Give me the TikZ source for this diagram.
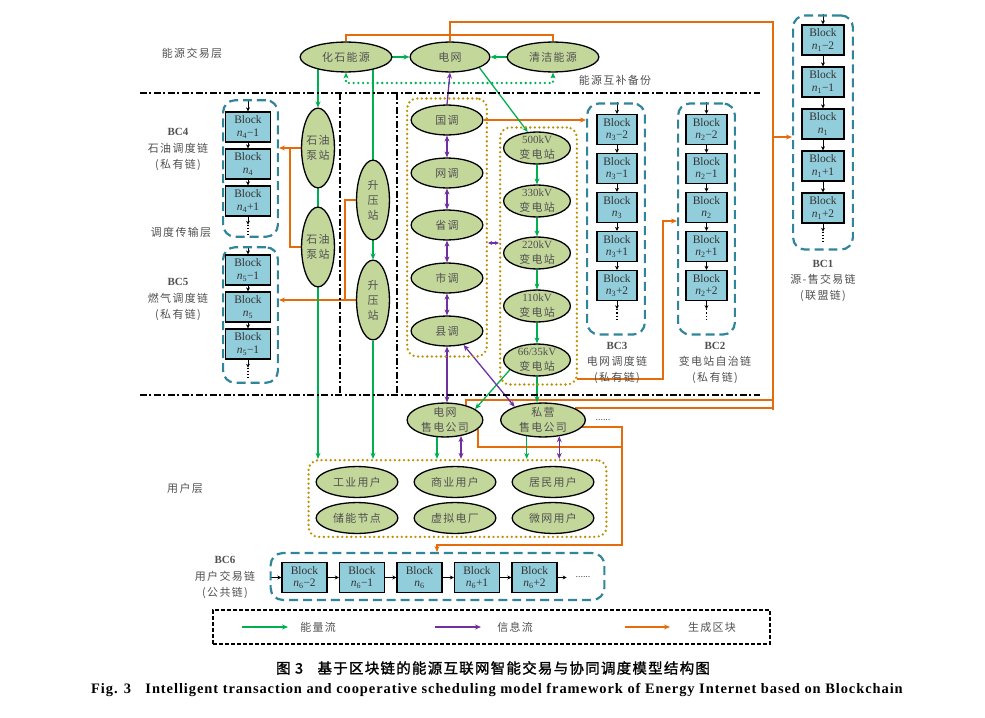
\documentclass[tikz,border=0pt]{standalone}
\usepackage{fontspec}
\setmainfont{Liberation Serif}
\newfontfamily\cjk[LetterSpace=12]{Noto Sans CJK SC}
\newfontfamily\cjkb[FakeBold=1.5,LetterSpace=9]{Noto Sans CJK SC}
\usetikzlibrary{shapes.geometric,arrows.meta}
\pgfdeclarelayer{bg}
\pgfsetlayers{bg,main}
\definecolor{cell}{RGB}{196,215,155}
\definecolor{cblk}{RGB}{146,205,220}
\definecolor{cchain}{RGB}{49,133,155}
\definecolor{cgold}{RGB}{191,144,0}
\definecolor{cgreen}{RGB}{0,176,80}
\definecolor{cpurple}{RGB}{112,48,160}
\definecolor{corange}{RGB}{228,108,10}
\definecolor{ctext}{RGB}{80,80,80}
\newcommand{\bn}[2]{Block\\\textit{n}\textsubscript{#1}#2}
\begin{document}
\begin{tikzpicture}[x=1bp,y=-1bp,>={Stealth[length=6pt,width=5pt]},
el/.style={ellipse,draw=black,line width=1.3pt,fill=cell,inner sep=-2pt,align=center,text=ctext,font=\cjk\fontsize{11}{15}\selectfont},
blk/.style={draw=black,line width=1.5pt,fill=cblk,minimum width=#1,minimum height=30,inner sep=0pt,align=center,text=black!80,font=\fontsize{11.5}{12.5}\selectfont},
blk/.default=41,
chain/.style={draw=cchain,line width=2.2pt,dash pattern=on 9pt off 5pt,rounded corners=12pt},
grp/.style={draw=cgold,line width=2.6pt,dash pattern=on 0pt off 4.6pt,line cap=round,rounded corners=10pt},
sep/.style={line width=1.6pt,dash pattern=on 7pt off 2.5pt on 2pt off 2.5pt},
gf/.style={draw=cgreen,line width=1.3pt},
pf/.style={<->,draw=cpurple,line width=1.3pt},
of/.style={draw=corange,line width=2pt},
bk/.style={-{Stealth[length=4pt,width=4pt]},line width=1pt},
lab/.style={align=center,text=ctext,font=\cjk\fontsize{11}{16.5}\selectfont}]
\path[use as bounding box] (0,0) rectangle (985,718);
\draw[sep] (140,93)--(760,93);
\draw[sep] (140,395)--(760,395);
\draw[sep] (340,93)--(340,395);
\draw[sep] (397,93)--(397,395);
\node[lab] (l1) at (192,53) {能源交易层};
\node[lab] (l2) at (181,232) {调度传输层};
\node[lab] (l3) at (185,488) {用户层};
\node[lab] (l4) at (615,80) {能源互补备份};
\node[chain,minimum width=55,minimum height=137] (bc4) at (250.5,168.5) {};
\node[chain,minimum width=55,minimum height=136] (bc5) at (250.5,315) {};
\node[chain,minimum width=58,minimum height=232] (bc3) at (616,219) {};
\node[chain,minimum width=57,minimum height=232] (bc2) at (706.5,219) {};
\node[chain,minimum width=60,minimum height=235] (bc1) at (823,132.5) {};
\node[chain,minimum width=335,minimum height=47] (bc6) at (437.5,576.5) {};
\foreach \s [count=\i] in {{−1},{},{+1}}
  \node[blk=45] (b4\i) at (248,{90+37*\i}) {\bn{4}{\s}};
\foreach \s [count=\i] in {{−1},{},{−1}}
  \node[blk=45] (b5\i) at (248,{233+37*\i}) {\bn{5}{\s}};
\foreach \s [count=\i] in {{−2},{−1},{},{+1},{+2}}{
  \node[blk=40] (b3\i) at (617,{90.5+39*\i}) {\bn{3}{\s}};
  \node[blk=41] (b2\i) at (706.5,{90.5+39*\i}) {\bn{2}{\s}};
  \node[blk=42] (b1\i) at (823,{-2+42*\i}) {\bn{1}{\s}};
  \node[blk=45] (b6\i) at ({247+57.5*\i},577.5) {\bn{6}{\s}};
}
\node[lab] (t4) at (178,149.5) {{\rmfamily\bfseries BC4}\\石油调度链\\(私有链)};
\node[lab] (t5) at (178,299.5) {{\rmfamily\bfseries BC5}\\燃气调度链\\(私有链)};
\node[lab] (t3) at (617,363) {{\rmfamily\bfseries BC3}\\电网调度链\\(私有链)};
\node[lab] (t2) at (715,363) {{\rmfamily\bfseries BC2}\\变电站自治链\\(私有链)};
\node[lab] (t1) at (823,281) {{\rmfamily\bfseries BC1}\\源-售交易链\\(联盟链)};
\node[lab] (t6) at (225,577.5) {{\rmfamily\bfseries BC6}\\用户交易链\\(公共链)};
\node[grp,minimum width=80,minimum height=259] (dgrp) at (447,227.5) {};
\node[grp,minimum width=77,minimum height=258] (sgrp) at (538.5,256) {};
\node[grp,minimum width=299,minimum height=77] (ug) at (457.5,498.5) {};
\node[el,minimum width=92,minimum height=30] (hua) at (346,57) {化石能源};
\node[el,minimum width=80,minimum height=30] (dw) at (450,57) {电网};
\node[el,minimum width=92,minimum height=30] (qj) at (553,57) {清洁能源};
\node[el,minimum width=33,minimum height=80] (oil1) at (318,148) {石油\\泵站};
\node[el,minimum width=33,minimum height=80] (oil2) at (318,247) {石油\\泵站};
\node[el,minimum width=33,minimum height=80] (up1) at (373,200) {升\\压\\站};
\node[el,minimum width=33,minimum height=80] (up2) at (373,300) {升\\压\\站};
\node[el,minimum width=72,minimum height=30] (guo) at (447,120) {国调};
\node[el,minimum width=72,minimum height=30] (wang) at (447,173) {网调};
\node[el,minimum width=72,minimum height=30] (sheng) at (447,225) {省调};
\node[el,minimum width=72,minimum height=30] (shi) at (447,278) {市调};
\node[el,minimum width=72,minimum height=30] (xian) at (447,331) {县调};
\node[el,minimum width=67,minimum height=32] (v500) at (537,148) {{\rmfamily 500kV}\\变电站};
\node[el,minimum width=67,minimum height=32] (v330) at (537,201) {{\rmfamily 330kV}\\变电站};
\node[el,minimum width=67,minimum height=32] (v220) at (537,253) {{\rmfamily 220kV}\\变电站};
\node[el,minimum width=67,minimum height=32] (v110) at (537,306) {{\rmfamily 110kV}\\变电站};
\node[el,minimum width=67,minimum height=32] (v66) at (537,360) {{\rmfamily 66/35kV}\\变电站};
\node[el,minimum width=76,minimum height=34] (gsc) at (445,420) {电网\\售电公司};
\node[el,minimum width=85,minimum height=34] (psc) at (543,420) {私营\\售电公司};
\node[text=ctext] (more) at (603,420) {......};
\node[el,minimum width=82,minimum height=31] (u1) at (357,482) {工业用户};
\node[el,minimum width=82,minimum height=31] (u2) at (455,482) {商业用户};
\node[el,minimum width=82,minimum height=31] (u3) at (553,482) {居民用户};
\node[el,minimum width=82,minimum height=31] (u4) at (357,518) {储能节点};
\node[el,minimum width=82,minimum height=31] (u5) at (455,518) {虚拟电厂};
\node[el,minimum width=82,minimum height=31] (u6) at (553,518) {微网用户};
\coordinate (ob) at (450,35);
\coordinate (gb) at (450,83);
\coordinate (r1) at (773,22);
\coordinate (r2) at (773,410);
\coordinate (r3) at (773,137);
\coordinate (r4) at (773,400);
\coordinate (q1) at (622,545);
\coordinate (q2) at (437,545);
\coordinate (q3) at (622,447);
\coordinate (o1) at (577,379);
\coordinate (o2) at (663,221);
\coordinate (o3) at (290,148);
\coordinate (o4) at (345,300);
\coordinate (ph) at (493,243);
\begin{pgfonlayer}{bg}
\foreach \c/\m/\n in {4/2/3,5/2/3,3/4/5,2/4/5,1/4/5}{
  \draw[bk] (bc\c.north-|b\c1)--(b\c1.north);
  \foreach \i in {1,...,\m}{
    \pgfmathtruncatemacro\j{\i+1}
    \draw[bk] (b\c\i.south)--(b\c\j.north);
  }
  \draw[bk] (b\c\n.south)--++(0,8) coordinate (e\c);
  \draw[dotted,line width=1.2pt] (e\c)--++(0,11);
}
\draw[bk] (bc6.west|-b61)--(b61.west);
\foreach \i in {1,...,4}{
  \pgfmathtruncatemacro\j{\i+1}
  \draw[bk] (b6\i.east)--(b6\j.west);
}
\draw[bk] (b65.east)--++(9,0);
\node[text=ctext] (more6) at (583,577) {......};
\draw[of] (hua.north)|-(ob)-|(qj.north);
\draw[of] (dw.north)|-(r1)--(r2);
\draw[of,->] (r3)--(bc1.west|-r3);
\draw[of] (gsc.35)|-(r4);
\draw[of] (psc.20)--(psc.20-|r2);
\draw[of] (gsc.-15)|-(q3);
\draw[of,->] (psc.-10)-|(q1)--(q2)--(bc6.north-|q2);
\draw[of,->] (guo.east)--(bc3.west|-guo.east);
\draw[of,->] (o1)-|(o2)--(bc2.west|-o2);
\draw[of,->] (oil1.west)--(bc4.east|-oil1.west);
\draw[of] (oil2.west)-|(o3);
\draw[of,->] (up2.west)--(bc5.east|-up2.west);
\draw[of] (up1.west)-|(o4);
\draw[gf,->] (hua.east)--(dw.west);
\draw[gf,->] (qj.west)--(dw.east);
\draw[gf,<->,line width=2.6pt,dash pattern=on 0pt off 4.8pt,line cap=round] (hua.south)|-(gb)-|(qj.south);
\draw[gf,->] (oil1|-hua)--(oil1.north);
\draw[gf,->] (oil1)--(ug.north-|oil1);
\draw[gf] (up1|-hua)--(up1);
\draw[gf,->] (up1.south)--(up2.north);
\draw[gf,->] (up2)--(ug.north-|up2);
\draw[gf,->] (dw.-20)--(v500.120);
\foreach \a/\b in {v500/v330,v330/v220,v220/v110,v110/v66}
  \draw[gf,->] (\a.south)--(\b.north);
\draw[gf,->] (v66)--(v66|-psc.north);
\draw[gf,->] (v66.200)--(gsc.20);
\draw[gf,->] (gsc.-115)--(gsc.-115|-ug.north);
\draw[gf,->] (psc.-135)--(psc.-135|-ug.north);
\draw[pf,->] (guo.north)--(dw.south);
\foreach \a/\b in {guo/wang,wang/sheng,sheng/shi,shi/xian}
  \draw[pf] (\a.south)--(\b.north);
\draw[pf,{Stealth[length=4pt,width=4pt]}-{Stealth[length=4pt,width=4pt]}] (dgrp.east|-ph)--(sgrp.west|-ph);
\draw[pf] (xian.south)--(xian.south|-gsc.north);
\draw[pf] (xian.-40)--(psc.155);
\draw[pf] (gsc.-45)--(gsc.-45|-ug.north);
\draw[pf] (psc.-45)--(psc.-45|-ug.north);
\end{pgfonlayer}
\node[draw,line width=1.5pt,dash pattern=on 4pt off 2pt,minimum width=559,minimum height=34] (leg) at (491.5,627) {};
\draw[gf,->,line width=2pt] (242,627)--(288,627);
\draw[pf,->,line width=2pt] (435,627)--(481,627);
\draw[of,->,line width=2pt] (625,627)--(670,627);
\node[lab] (k1) at (318,627) {能量流};
\node[lab] (k2) at (515,627) {信息流};
\node[lab] (k3) at (712,627) {生成区块};
\node[font=\cjkb\fontsize{14.5}{16}\selectfont] (cap1) at (493,668) {图 3\quad 基于区块链的能源互联网智能交易与协同调度模型结构图};
\node[font=\bfseries\fontsize{14.5}{16}\selectfont\addfontfeature{LetterSpace=6.5}] (cap2) at (497,690) {Fig. 3\quad Intelligent transaction and cooperative scheduling model framework of Energy Internet based on Blockchain};
\end{tikzpicture}
\end{document}
